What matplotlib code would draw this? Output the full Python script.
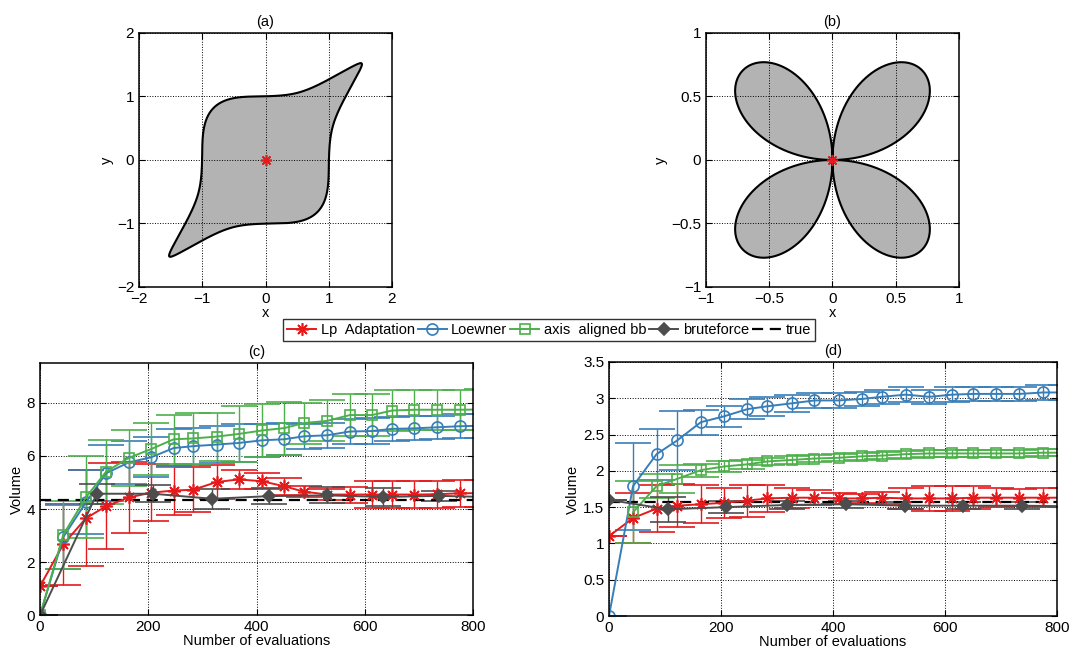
import numpy as np
import matplotlib
matplotlib.use("Agg")
import matplotlib.pyplot as plt
from matplotlib.ticker import FuncFormatter

plt.rcParams['font.family'] = ['Liberation Sans', 'DejaVu Sans']
plt.rcParams['font.size'] = 10.5

# evaluation counts (the last point lies just past the axis limit)
x_eval = [0, 43, 85, 122, 164, 205, 247, 283, 326, 367, 410, 451, 487,
          530, 572, 613, 650, 691, 733, 775, 816]
x_brute = [0, 105, 209, 318, 423, 529, 633, 737, 841]

# panel (c)
lp_c = [1.10, 2.68, 3.66, 4.11, 4.44, 4.62, 4.70, 4.73, 5.02, 5.12, 5.05,
        4.86, 4.66, 4.55, 4.55, 4.55, 4.55, 4.55, 4.56, 4.60, 4.60]
lp_c_err = [0.0, 1.52, 1.80, 1.62, 1.34, 1.08, 0.93, 0.85, 0.65, 0.35, 0.30,
            0.33, 0.22, 0.22, 0.30, 0.50, 0.50, 0.50, 0.50, 0.50, 0.50]
loewner_c = [0.0, 2.95, 4.26, 5.35, 5.76, 5.95, 6.30, 6.37, 6.43, 6.49, 6.59,
             6.63, 6.74, 6.78, 6.92, 6.94, 7.02, 7.04, 7.08, 7.12, 7.14]
loewner_c_err = [0.0, 1.20, 1.20, 1.05, 0.81, 0.75, 0.72, 0.70, 0.70, 0.70, 0.63,
                 0.60, 0.46, 0.47, 0.47, 0.50, 0.45, 0.45, 0.43, 0.45, 0.45]
axis_c = [0.0, 3.04, 4.45, 5.41, 5.93, 6.26, 6.63, 6.66, 6.73, 6.83, 6.96,
          7.05, 7.24, 7.32, 7.54, 7.54, 7.71, 7.74, 7.74, 7.74, 7.75]
axis_c_err = [0.0, 1.28, 1.55, 1.20, 1.06, 0.99, 0.93, 0.95, 0.90, 1.06, 1.00,
              1.00, 0.77, 0.77, 0.80, 0.80, 0.77, 0.76, 0.76, 0.76, 0.76]
brute_c = [0.0, 4.58, 4.58, 4.39, 4.49, 4.52, 4.46, 4.50, 4.45]
brute_c_err = [0.0, 0.38, 0.32, 0.37, 0.30, 0.30, 0.33, 0.20, 0.20]
true_c = 4.33

# panel (d)
lp_d = [1.10, 1.35, 1.48, 1.52, 1.54, 1.56, 1.59, 1.62, 1.63, 1.63, 1.62,
        1.62, 1.63, 1.62, 1.62, 1.62, 1.63, 1.63, 1.63, 1.63, 1.63]
lp_d_err = [0.0, 0.35, 0.32, 0.30, 0.26, 0.21, 0.22, 0.19, 0.14, 0.10, 0.08,
            0.06, 0.08, 0.15, 0.17, 0.17, 0.16, 0.13, 0.12, 0.13, 0.13]
loewner_d = [0.0, 1.79, 2.23, 2.42, 2.67, 2.75, 2.85, 2.89, 2.93, 2.97, 2.97,
             2.99, 3.02, 3.05, 3.02, 3.05, 3.06, 3.06, 3.06, 3.08, 3.08]
loewner_d_err = [0.0, 0.60, 0.35, 0.41, 0.17, 0.15, 0.14, 0.13, 0.12, 0.10, 0.10,
                 0.10, 0.10, 0.10, 0.10, 0.10, 0.10, 0.10, 0.10, 0.10, 0.10]
axis_d = [np.nan, 1.43, 1.79, 1.89, 2.01, 2.06, 2.09, 2.13, 2.15, 2.17, 2.18,
          2.20, 2.21, 2.23, 2.24, 2.24, 2.24, 2.24, 2.24, 2.25, 2.25]
axis_d_err = [0.0, 0.43, 0.17, 0.19, 0.09, 0.07, 0.06, 0.05, 0.05, 0.05, 0.05,
              0.05, 0.05, 0.05, 0.05, 0.05, 0.05, 0.05, 0.05, 0.05, 0.05]
brute_d = [1.60, 1.47, 1.50, 1.53, 1.54, 1.52, 1.52, 1.52, 1.51]
brute_d_err = [0.0, 0.17, 0.08, 0.05, 0.05, 0.05, 0.05, 0.05, 0.05]
true_d = 1.57

labels = ['Lp  Adaptation', 'Loewner', 'axis  aligned bb', 'bruteforce', 'true']

# shape (a): rounded square with two tips along the diagonal
SHAPE_P = 3.5
TIP_GAIN = 0.99
TIP_WIDTH = np.deg2rad(7.5)
TIP_ROUND = np.deg2rad(1.2)

RED = '#e41a1c'
BLUE = '#377eb8'
GREEN = '#4daf4a'
GRAY = '#4d4d4d'
FILL = '#b3b3b3'
ASTER = (8, 2, 0)


def fmt(v, pos):
    return ('%g' % v).replace('-', '\u2212')


def style_axes(ax):
    ax.grid(True, linestyle=':', color='k', linewidth=0.7)
    ax.tick_params(direction='in', length=4, top=True, right=True, width=0.8,
                   labelsize=11)
    ax.xaxis.set_major_formatter(FuncFormatter(fmt))
    ax.yaxis.set_major_formatter(FuncFormatter(fmt))
    for s in ax.spines.values():
        s.set_linewidth(1.1)


fig = plt.figure(figsize=(10.71, 6.5), dpi=100)

# (a)
ax_a = fig.add_axes([0.1298, 0.5585, 0.2362, 0.3908])
th = np.linspace(0, 2 * np.pi, 3000)
r0 = (np.abs(np.cos(th)) ** SHAPE_P + np.abs(np.sin(th)) ** SHAPE_P) ** (-1 / SHAPE_P)
d1 = np.abs(np.angle(np.exp(1j * (th - np.pi / 4))))
d2 = np.abs(np.angle(np.exp(1j * (th - 5 * np.pi / 4))))
d1 = np.sqrt(d1 ** 2 + TIP_ROUND ** 2) - TIP_ROUND
d2 = np.sqrt(d2 ** 2 + TIP_ROUND ** 2) - TIP_ROUND
r = r0 + TIP_GAIN * (np.exp(-d1 / TIP_WIDTH) + np.exp(-d2 / TIP_WIDTH))
ax_a.fill(r * np.cos(th), r * np.sin(th), color=FILL, zorder=1, lw=0)
ax_a.plot(r * np.cos(th), r * np.sin(th), color='k', lw=1.5, zorder=3)
ax_a.plot([0], [0], marker=ASTER, color=RED, ms=8, mew=1.2, zorder=4)
ax_a.set_xlim(-2, 2)
ax_a.set_ylim(-2, 2)
ax_a.set_xticks([-2, -1, 0, 1, 2])
ax_a.set_yticks([-2, -1, 0, 1, 2])
style_axes(ax_a)
ax_a.set_axisbelow(False)
ax_a.set_title('(a)', fontsize=10.5, pad=5)
ax_a.set_xlabel('x', labelpad=0)
ax_a.set_ylabel('y', labelpad=2)

# (b): four-leaf rose r = |sin 2θ|
ax_b = fig.add_axes([0.6592, 0.5585, 0.2362, 0.3908])
rb = np.abs(np.sin(2 * th))
ax_b.fill(rb * np.cos(th), rb * np.sin(th), color=FILL, zorder=1, lw=0)
ax_b.plot(rb * np.cos(th), rb * np.sin(th), color='k', lw=1.5, zorder=3)
ax_b.plot([0], [0], marker=ASTER, color=RED, ms=8, mew=1.2, zorder=4)
ax_b.set_xlim(-1, 1)
ax_b.set_ylim(-1, 1)
ax_b.set_xticks([-1, -0.5, 0, 0.5, 1])
ax_b.set_yticks([-1, -0.5, 0, 0.5, 1])
style_axes(ax_b)
ax_b.set_axisbelow(False)
ax_b.set_title('(b)', fontsize=10.5, pad=5)
ax_b.set_xlabel('x', labelpad=0)
ax_b.set_ylabel('y', labelpad=2)


def conv_panel(ax, lp, lp_e, lw_, lw_e, ab, ab_e, bf, bf_e, tv):
    kw = dict(capsize=13, elinewidth=1.0, capthick=1.0, lw=1.4, mew=1.2)
    h1 = ax.errorbar(x_eval, lp, yerr=lp_e, color=RED, marker=ASTER, ms=9, **kw)
    h2 = ax.errorbar(x_eval, lw_, yerr=lw_e, color=BLUE, marker='o', ms=8,
                     mfc='none', **kw)
    h3 = ax.errorbar(x_eval, ab, yerr=ab_e, color=GREEN, marker='s', ms=7,
                     mfc='none', **kw)
    h4 = ax.errorbar(x_brute, bf, yerr=bf_e, color=GRAY, marker='D', ms=6,
                     mfc=GRAY, **kw)
    h5, = ax.plot([0, 800], [tv, tv], color='k', lw=1.6, dashes=(5, 3))
    ax.set_xlim(0, 800)
    ax.set_xticks([0, 200, 400, 600, 800])
    style_axes(ax)
    ax.set_axisbelow(True)
    ax.set_xlabel('Number of evaluations', labelpad=0)
    ax.set_ylabel('Volume', labelpad=2)
    return [h1.lines[0], h2.lines[0], h3.lines[0], h4.lines[0], h5]


ax_c = fig.add_axes([0.03735, 0.0531, 0.4046, 0.3885])
handles = conv_panel(ax_c, lp_c, lp_c_err, loewner_c, loewner_c_err,
                     axis_c, axis_c_err, brute_c, brute_c_err, true_c)
ax_c.set_ylim(0, 9.5)
ax_c.set_yticks([0, 2, 4, 6, 8])
ax_c.set_title('(c)', fontsize=10.5, pad=5)

ax_d = fig.add_axes([0.5686, 0.0523, 0.4183, 0.3908])
conv_panel(ax_d, lp_d, lp_d_err, loewner_d, loewner_d_err,
           axis_d, axis_d_err, brute_d, brute_d_err, true_d)
ax_d.set_ylim(0, 3.5)
ax_d.set_yticks([0, 0.5, 1, 1.5, 2, 2.5, 3, 3.5])
ax_d.set_title('(d)', fontsize=10.5, pad=5)

leg = fig.legend(handles, labels, loc='center', bbox_to_anchor=(549 / 1071, 1 - 330 / 650),
                 ncol=5, frameon=True, fancybox=False, edgecolor='k',
                 handlelength=2.0, handletextpad=0.3, columnspacing=0.2,
                 borderpad=0.3, fontsize=10.5)
leg.get_frame().set_linewidth(1.0)

fig.savefig('out.png', dpi=100)
